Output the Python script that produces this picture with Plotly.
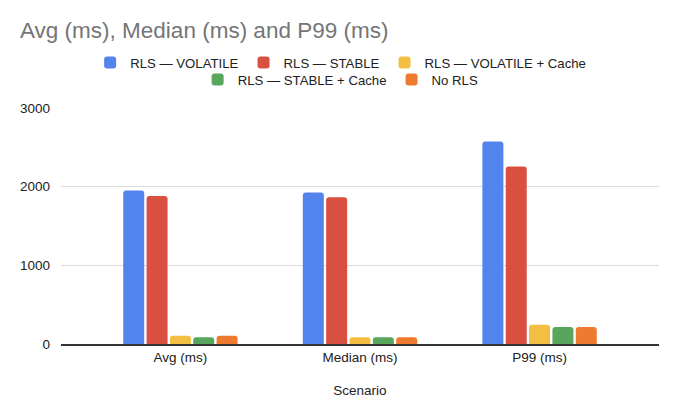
import plotly.graph_objects as go

scenarios = ["Avg (ms)", "Median (ms)", "P99 (ms)"]

rls_volatile = [1950, 1925, 2575]
rls_stable = [1880, 1865, 2255]
rls_volatile_cache = [105, 85, 245]
rls_stable_cache = [85, 85, 215]
no_rls = [105, 85, 215]

series = [
    ("RLS — VOLATILE", rls_volatile, "#5383EC", "legend"),
    ("RLS — STABLE", rls_stable, "#DA5040", "legend"),
    ("RLS — VOLATILE + Cache", rls_volatile_cache, "#F3BE42", "legend"),
    ("RLS — STABLE + Cache", rls_stable_cache, "#58A55C", "legend2"),
    ("No RLS", no_rls, "#EE7A30", "legend2"),
]

fig = go.Figure()
for name, vals, color, leg in series:
    fig.add_trace(go.Bar(x=scenarios, y=vals, name=name, marker_color=color,
                         marker_line_width=0, legend=leg))

font_family = "Liberation Sans, Arial, sans-serif"

# the page puts the figure 8px in from the top-left corner
W, H = 672, 411
L, R, T, B = 49, 21, 100, 75
plot_w, plot_h = W - L - R, H - T - B

legend_style = dict(orientation="h", x=(338.5 - 8 - L) / plot_w, xanchor="center",
                    yanchor="middle",
                    font=dict(family=font_family, size=13.2, color="#222"),
                    itemwidth=30, traceorder="normal", bgcolor="rgba(0,0,0,0)")

fig.update_layout(
    width=W, height=H,
    margin=dict(l=L, r=R, t=T, b=B),
    paper_bgcolor="white", plot_bgcolor="white",
    font=dict(family=font_family, color="#222"),
    title=dict(text="Avg (ms), Median (ms) and P99 (ms)", x=12 / W, xanchor="left",
               y=1 - 22 / H, yanchor="middle",
               font=dict(family=font_family, size=22.5, color="#757575")),
    barmode="group", bargap=0.35, bargroupgap=0.1, barcornerradius=3,
    legend=dict(y=1 + (T - 55) / plot_h, **legend_style),
    legend2=dict(y=1 + (T - 72) / plot_h, **legend_style),
    showlegend=True,
)

fig.update_yaxes(range=[0, 3000], tickvals=[0, 1000, 2000, 3000], gridcolor="#dadada",
                 zeroline=False, showline=False, ticks="", tickfont=dict(size=13.5, color="#222"),
                 ticklabelstandoff=10)
# padding at both ends of the category axis, like the sheets chart
pad = 0.165
fig.update_xaxes(range=[-0.5 - pad, 2.5 + pad], showline=True, linecolor="#333", linewidth=1.5,
                 ticks="", tickfont=dict(size=13.5, color="#222"),
                 title=dict(text="Scenario", font=dict(size=13.5, color="#222"), standoff=22))

# thin frame line on the right edge
xr = (670 - L) / plot_w
fig.add_shape(type="line", xref="paper", yref="paper",
              x0=xr, x1=xr, y0=-B / plot_h, y1=1 + T / plot_h,
              line=dict(color="#cfcfcf", width=1))

fig.write_html("out.html")
